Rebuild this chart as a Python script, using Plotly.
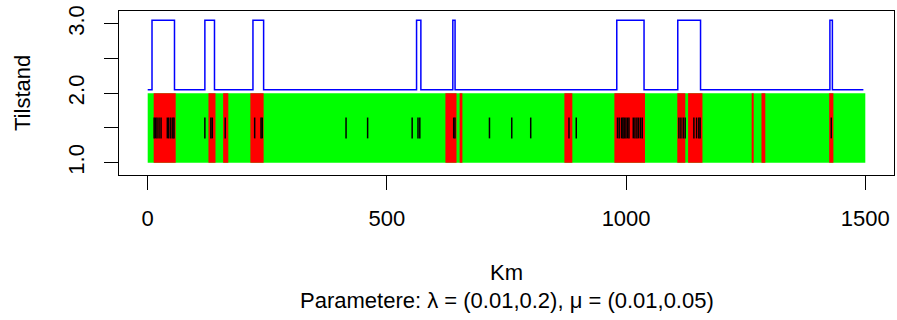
import plotly.graph_objects as go

# ---- data (km) ----
state_start = [0]
state_end = [1500]
red_starts = [12.5, 127, 157.7, 214.6, 622.3, 652, 871, 975.5, 1107, 1129.6, 1262.5, 1283, 1424.5]
red_ends = [58.5, 141.7, 168.5, 242.3, 645.5, 657.8, 887.6, 1039.5, 1123.8, 1159.6, 1266.7, 1291, 1433.3]
events = [13.5, 16.5, 19.5, 23.7, 27.9, 41, 44, 48.3, 52.5, 55,
          119.5, 132, 135, 162, 223.6, 236.9, 239.5,
          414.6, 459.7, 552.8, 565, 568.8, 639.6, 642.3, 714.4, 761, 800.6, 880.6, 895.8,
          982, 985.6, 990.4, 993.3, 996, 999.6, 1003, 1006, 1015, 1018.5, 1022.6, 1026, 1030, 1033.7,
          1110.4, 1114.6, 1119.4, 1123.5, 1141.7, 1147.3, 1152, 1154.8, 1428.9]
est_x = [0, 9, 56, 119.5, 139.6, 220, 242.3, 562, 571, 637.8, 642.5, 980.5, 1037.5, 1108, 1155.6, 1426, 1431.2, 1496]
est_y = [2.05, 3.05, 2.05, 3.05, 2.05, 3.05, 2.05, 3.05, 2.05, 3.05, 2.05, 3.05, 2.05, 3.05, 2.05, 3.05, 2.05, 2.05]
x_ticks = [0, 500, 1000, 1500]
y_ticks = [1.0, 1.5, 2.0, 2.5, 3.0]
y_tick_text = ["1.0", "", "2.0", "", "3.0"]

FONT = "Liberation Sans, Arial, Helvetica, sans-serif"
FS = 22

fig = go.Figure()

# green background band (state 1..2)
gx, gy = [], []
for a, b in zip(state_start, state_end):
    gx += [a, b, b, a, a, None]
    gy += [1, 1, 2, 2, 1, None]
fig.add_trace(go.Scatter(x=gx, y=gy, fill="toself", fillcolor="#00FF00",
                         mode="lines", line=dict(width=0), hoverinfo="skip", showlegend=False))

# red segments
rx, ry = [], []
for a, b in zip(red_starts, red_ends):
    rx += [a, b, b, a, a, None]
    ry += [1, 1, 2, 2, 1, None]
fig.add_trace(go.Scatter(x=rx, y=ry, fill="toself", fillcolor="#FF0000",
                         mode="lines", line=dict(width=0), hoverinfo="skip", showlegend=False))

# event ticks
ex, ey = [], []
for e in events:
    ex += [e, e, None]
    ey += [1.35, 1.65, None]
fig.add_trace(go.Scatter(x=ex, y=ey, mode="lines", line=dict(color="black", width=1.5),
                         hoverinfo="skip", showlegend=False))

# estimated state step line
fig.add_trace(go.Scatter(x=est_x, y=est_y, mode="lines", line=dict(color="#0000FF", width=1.5, shape="hv"),
                         showlegend=False))

fig.update_layout(
    width=897, height=320,
    margin=dict(l=119, r=3, t=11, b=145),
    plot_bgcolor="white", paper_bgcolor="white",
    font=dict(family=FONT, size=FS, color="black"),
    xaxis=dict(range=[-60, 1560], tickvals=x_ticks, ticktext=[str(v) for v in x_ticks],
               ticks="outside", ticklen=14, tickwidth=1, tickcolor="black",
               showline=True, linecolor="black", linewidth=1, mirror=True,
               showgrid=False, zeroline=False, ticklabelstandoff=10),
    yaxis=dict(range=[0.823, 3.183], tickvals=y_ticks, ticktext=y_tick_text,
               ticks="outside", ticklen=14, tickwidth=1, tickcolor="black", tickangle=-90,
               showline=True, linecolor="black", linewidth=1, mirror=True,
               showgrid=False, zeroline=False, ticklabelstandoff=11),
    annotations=[
        dict(text="Km", xref="paper", yref="paper", x=0.5, y=0, yanchor="middle",
             yshift=-97, showarrow=False, font=dict(size=FS)),
        dict(text="Parametere: λ = (0.01,0.2), μ = (0.01,0.05)", xref="paper", yref="paper",
             x=0.5, y=0, yanchor="middle", yshift=-125, showarrow=False, font=dict(size=FS)),
        dict(text="Tilstand", xref="paper", yref="paper", x=0, y=0.5, xanchor="center",
             xshift=-97, textangle=-90, showarrow=False, font=dict(size=FS)),
    ],
)

fig.write_html("out.html")
